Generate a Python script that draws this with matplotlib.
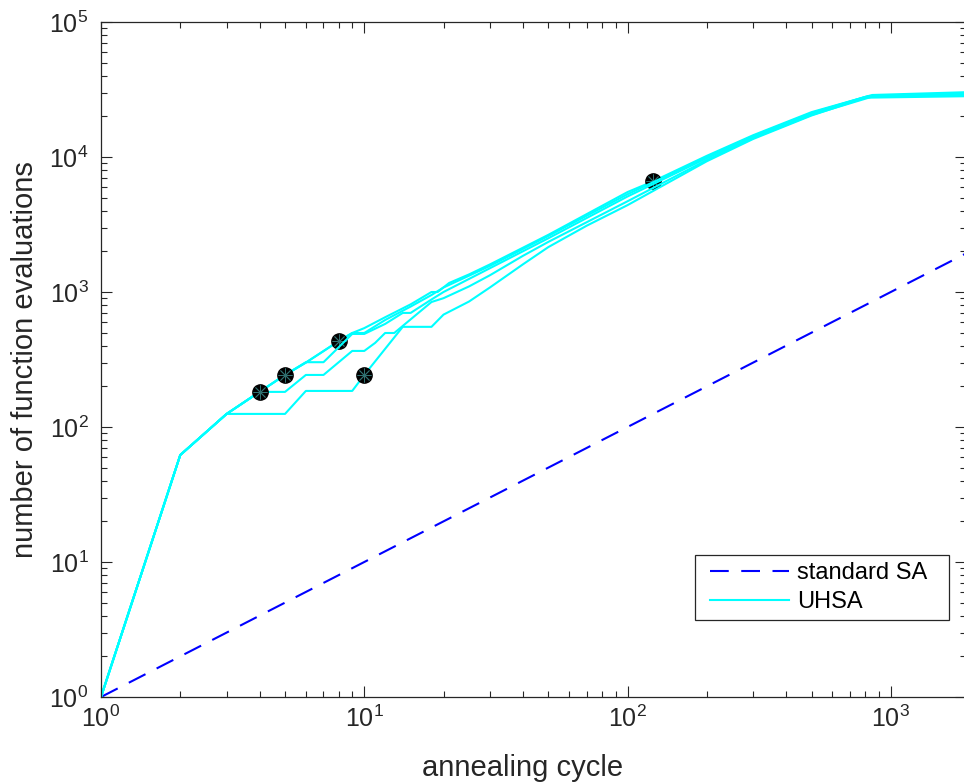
import numpy as np
import matplotlib.pyplot as plt
from matplotlib.lines import Line2D
from matplotlib.legend_handler import HandlerLine2D

plt.rcParams['font.family'] = ['Liberation Sans', 'DejaVu Sans']
plt.rcParams['mathtext.fontset'] = 'custom'
plt.rcParams['mathtext.rm'] = 'Liberation Sans'
plt.rcParams['mathtext.it'] = 'Liberation Sans:italic'

# standard SA: one evaluation per cycle
sa_cycle = [1, 1930]
sa_evals = [1, 1930]

# UHSA runs (breakpoints)
run_a_cycle = [1, 2, 3, 4, 5, 6, 7, 8, 9, 10, 12, 15, 18, 19, 21, 25, 30, 50, 100, 125, 200, 300, 500, 850, 1930]
run_a_evals = [1, 62, 125, 182, 243, 300, 365, 433, 497, 540, 650, 810, 1000, 1000, 1166, 1350, 1600, 2650, 5500, 6600, 10200, 14500, 21500, 28800, 30200]

run_b_cycle = [1, 2, 3, 4, 5, 6, 7, 8, 9, 10, 12, 15, 18, 20, 25, 30, 50, 100, 200, 300, 500, 820, 1930]
run_b_evals = [1, 62, 125, 182, 243, 300, 365, 433, 497, 497, 620, 780, 950, 1080, 1320, 1560, 2600, 5300, 10000, 14300, 21200, 28300, 29700]

run_c_cycle = [1, 2, 3, 4, 5, 6, 7, 9, 10, 12, 14, 15, 18, 20, 25, 30, 50, 100, 200, 300, 500, 800, 1930]
run_c_evals = [1, 62, 125, 182, 243, 302, 302, 489, 489, 580, 700, 700, 880, 1000, 1250, 1500, 2500, 5100, 9800, 14000, 21000, 27800, 29200]

run_d_cycle = [1, 2, 3, 4, 5, 6, 7, 9, 10, 11, 12, 13, 18, 20, 25, 30, 40, 50, 100, 200, 300, 500, 850, 1930]
run_d_evals = [1, 62, 125, 182, 182, 243, 243, 366, 366, 420, 497, 497, 843, 900, 1100, 1330, 1850, 2350, 4700, 9500, 13800, 20500, 28000, 28600]

run_e_cycle = [1, 2, 3, 5, 6, 9, 10, 14, 18, 20, 25, 30, 40, 50, 70, 100, 200, 300, 500, 800, 1930]
run_e_evals = [1, 62, 125, 125, 185, 185, 243, 552, 552, 680, 850, 1080, 1600, 2150, 3100, 4400, 9300, 13600, 20300, 27500, 28200]

# cycle at which each run is marked
dot_cycle = [125, 8, 5, 4, 10]
dot_evals = [6600, 433, 243, 182, 243]

runs = [(run_a_cycle, run_a_evals), (run_b_cycle, run_b_evals), (run_c_cycle, run_c_evals),
        (run_d_cycle, run_d_evals), (run_e_cycle, run_e_evals)]

fig = plt.figure(figsize=(9.64, 7.83), dpi=100)
ax = fig.add_axes([101 / 964, 86 / 783, 865 / 964, 675 / 783])

ax.plot(sa_cycle, sa_evals, color=(0, 0, 1), ls=(0, (9, 6)), lw=1.5, label='standard SA')
for i, (c, e) in enumerate(runs):
    ax.plot(c, e, color=(0, 1, 1), lw=1.5, label='UHSA' if i == 0 else None)
    ax.plot(dot_cycle[i], dot_evals[i], 'o', color='k', ms=11)
    ax.plot(dot_cycle[i], dot_evals[i], marker=(8, 2, 0), color='#2f6f6f', ms=10, mew=0.6)

ax.set_xscale('log')
ax.set_yscale('log')
ax.set_xlim(1, 1930)
ax.set_ylim(1, 1e5)

grey = '#262626'
for s in ax.spines.values():
    s.set_color(grey)
    s.set_linewidth(0.9)
ax.tick_params(which='both', direction='in', top=True, right=True, color=grey,
               labelcolor=grey, labelsize=18, width=0.8)
ax.tick_params(which='major', length=8)
ax.tick_params(which='minor', length=4)
ax.tick_params(axis='x', pad=6)
ax.tick_params(axis='y', pad=9)

ax.set_xlabel('annealing cycle', fontsize=21, color=grey)
ax.set_ylabel('number of function evaluations', fontsize=21, color=grey)
ax.xaxis.set_label_coords(0.487, -0.085)
ax.yaxis.set_label_coords(-0.072, 0.5)

leg = ax.legend(loc='lower left', bbox_to_anchor=(0.687, 0.114, 0.293, 0.102), mode='expand',
                fontsize=17, handlelength=4.0, handletextpad=0.0, borderpad=0.3,
                labelspacing=0.3, fancybox=False, framealpha=1, borderaxespad=0,
                handler_map={Line2D: HandlerLine2D(numpoints=2, marker_pad=0.34)})
leg.get_frame().set_edgecolor(grey)
leg.get_frame().set_linewidth(0.9)

fig.savefig('out.png', dpi=100)
